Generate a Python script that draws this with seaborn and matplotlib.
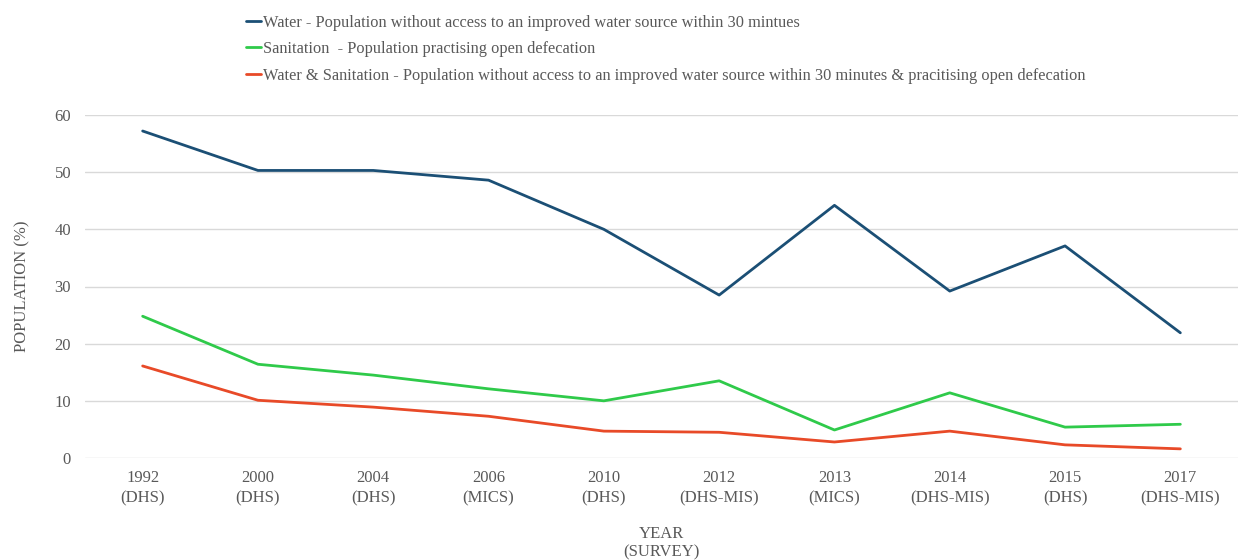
import matplotlib
matplotlib.use("Agg")
import matplotlib.pyplot as plt
import seaborn as sns
import pandas as pd

years = ["1992", "2000", "2004", "2006", "2010", "2012", "2013", "2014", "2015", "2017"]
surveys = ["DHS", "DHS", "DHS", "MICS", "DHS", "DHS-MIS", "MICS", "DHS-MIS", "DHS", "DHS-MIS"]
water = [57.2, 50.3, 50.3, 48.6, 40.0, 28.5, 44.2, 29.2, 37.1, 21.9]
sanitation = [24.8, 16.4, 14.5, 12.1, 10.0, 13.5, 4.9, 11.4, 5.4, 5.9]
water_sanitation = [16.1, 10.1, 8.9, 7.3, 4.7, 4.5, 2.8, 4.7, 2.3, 1.6]
series_names = [
    "Water - Population without access to an improved water source within 30 mintues",
    "Sanitation  - Population practising open defecation",
    "Water & Sanitation - Population without access to an improved water source within 30 minutes & pracitising open defecation",
]
colors = ["#1B4F75", "#2FCA4A", "#E84A28"]

rows = []
for name, vals in zip(series_names, [water, sanitation, water_sanitation]):
    for i, v in enumerate(vals):
        rows.append({"pos": i, "value": v, "series": name})
df = pd.DataFrame(rows)

sns.set_theme(style="white")
plt.rcParams["font.family"] = ["Liberation Serif", "DejaVu Serif"]
grey = "#595959"
fs = 12

fig = plt.figure(figsize=(12.38, 5.6), dpi=100)
ax = fig.add_axes([85 / 1238, 1 - 458 / 560, (1238 - 85) / 1238, (458 - 115) / 560])

sns.lineplot(data=df, x="pos", y="value", hue="series", hue_order=series_names,
             palette=colors, linewidth=2.0, ax=ax, legend=True)

ax.set_xlim(-0.5, 9.5)
ax.set_ylim(0, 60)
ax.set_yticks(range(0, 61, 10))
ax.set_xticks(range(len(years)))
ax.set_xticklabels([f"{y}\n({s})" for y, s in zip(years, surveys)], fontsize=fs, color=grey,
                   linespacing=1.3)
ax.tick_params(axis="y", labelsize=fs, labelcolor=grey, length=0, pad=10)
ax.tick_params(axis="x", length=0, pad=9)
ax.grid(axis="y", color="#D9D9D9", linewidth=1.0)
ax.set_axisbelow(True)
for s in ax.spines.values():
    s.set_visible(False)

ax.set_xlabel("YEAR\n(SURVEY)", fontsize=fs, color=grey, labelpad=14, linespacing=1.25)
ax.set_ylabel("POPULATION (%)", fontsize=fs, color=grey, labelpad=17)

handles, labels = ax.get_legend_handles_labels()
ax.legend_.remove()
fig.legend(handles, labels, loc="upper left", bbox_to_anchor=(239 / 1238, 1 - 8 / 560),
           frameon=False, fontsize=11.8, handlelength=0.95, handletextpad=0.1,
           labelspacing=0.64, labelcolor=grey, borderaxespad=0)

fig.savefig("out.png", dpi=100)
